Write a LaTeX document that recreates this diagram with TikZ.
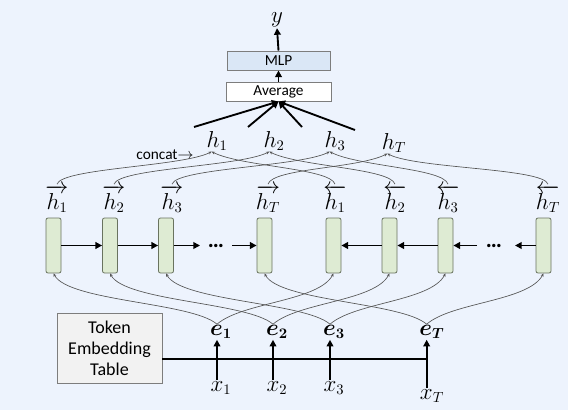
\documentclass[tikz,border=0pt]{standalone}
\usepackage{amsmath}
\usepackage{bm}
\usepackage{fontspec}
\setmainfont{Carlito}
\usetikzlibrary{arrows.meta}
\definecolor{bg}{RGB}{237,243,253}
\definecolor{mlpfill}{RGB}{218,231,246}
\definecolor{cellfill}{RGB}{222,235,211}
\definecolor{cellborder}{RGB}{105,115,95}
\definecolor{tokfill}{RGB}{242,242,242}
\definecolor{curvecol}{RGB}{85,85,85}
\definecolor{boxborder}{RGB}{125,125,125}
\begin{document}
\begin{tikzpicture}[x=0.75pt,y=-0.75pt,
  lab/.style={font=\fontsize{16}{18}\selectfont, inner sep=0.5pt},
  headbox/.style={draw=boxborder, line width=0.7pt, minimum height=14.25pt, inner sep=0pt, font=\fontsize{11.5}{13}\selectfont},
  cell/.style={draw=cellborder, fill=cellfill, line width=0.6pt, rounded corners=1.5pt, minimum width=11.25pt, minimum height=41.25pt, inner sep=0pt},
  tokbox/.style={draw=boxborder, fill=tokfill, line width=0.7pt, minimum width=78.75pt, minimum height=52.5pt, inner sep=0pt, align=center, font=\fontsize{13.5}{15.75}\selectfont},
  thickarr/.style={line width=1.4pt, -{Triangle[length=5pt,width=5pt]}},
  curvarr/.style={draw=curvecol, line width=0.5pt, -{Stealth[length=2.5pt,width=2.2pt]}},
  dotsnode/.style={font=\fontsize{17}{18}\selectfont\bfseries, inner sep=0pt}]
\fill[bg] (0,0) rectangle (568,410);
\useasboundingbox (0,0) rectangle (568,410);

% top
\node[lab] (y) at (277,20) {$y$};
\node[headbox, fill=mlpfill, minimum width=77.25pt] (mlp) at (278.5,60.5) {MLP};
\node[headbox, fill=white, minimum width=78.75pt] (avg) at (278.5,91.5) {Average};
\draw[thickarr] (mlp.north) -- (y.south);
\draw[thickarr] (avg.north) -- (mlp.south);

% concatenated h
\node[lab] (h1) at (217,141) {$h_1$};
\node[lab] (h2) at (274,141) {$h_2$};
\node[lab] (h3) at (335,141) {$h_3$};
\node[lab] (hT) at (394,143) {$h_T$};
\coordinate (ch1) at ([xshift=-4pt]h1.south);
\coordinate (ch2) at ([xshift=-3.5pt]h2.south);
\coordinate (ch3) at ([xshift=-4pt]h3.south);
\coordinate (chT) at ([xshift=-5pt]hT.south);
\node[font=\fontsize{11.5}{13}\selectfont, inner sep=0pt] (concat) at (165,155) {concat$\rightarrow$};

\coordinate (s1) at (194,127);
\coordinate (s2) at (248,127);
\coordinate (s3) at (302,127);
\coordinate (s4) at (355,130);
\draw[thickarr] (s1) -- (avg.south);
\draw[thickarr] (s2) -- (avg.south);
\draw[thickarr] (s3) -- (avg.south);
\draw[thickarr] (s4) -- (avg.south);

% forward / backward labels
\node[lab] (f1) at (57,199) {$\overrightarrow{h_1}$};
\node[lab] (f2) at (114,199) {$\overrightarrow{h_2}$};
\node[lab] (f3) at (172,199) {$\overrightarrow{h_3}$};
\node[lab] (fT) at (268,199) {$\overrightarrow{h_T}$};
\node[lab] (b1) at (335,199) {$\overleftarrow{h_1}$};
\node[lab] (b2) at (395,199) {$\overleftarrow{h_2}$};
\node[lab] (b3) at (448,199) {$\overleftarrow{h_3}$};
\node[lab] (bT) at (548,199) {$\overleftarrow{h_T}$};

% upper curves
\draw[curvarr] (f1.north) .. controls +(5,-16) and +(-30,15) .. (ch1);
\draw[curvarr] (f2.north) .. controls +(5,-16) and +(-30,15) .. (ch2);
\draw[curvarr] (f3.north) .. controls +(5,-16) and +(-30,15) .. (ch3);
\draw[curvarr] (fT.north) .. controls +(5,-16) and +(-30,15) .. (chT);
\draw[curvarr] (b1.north) .. controls +(-5,-16) and +(30,15) .. (ch1);
\draw[curvarr] (b2.north) .. controls +(-5,-16) and +(30,15) .. (ch2);
\draw[curvarr] (b3.north) .. controls +(-5,-16) and +(30,15) .. (ch3);
\draw[curvarr] (bT.north) .. controls +(-5,-16) and +(30,15) .. (chT);

% cells
\node[cell] (fc1) at (53.5,245.5) {};
\node[cell] (fc2) at (110,245.5) {};
\node[cell] (fc3) at (166,245.5) {};
\node[cell] (fcT) at (264.5,245.5) {};
\node[cell] (bc1) at (333.5,245.5) {};
\node[cell] (bc2) at (389.5,245.5) {};
\node[cell] (bc3) at (445.5,245.5) {};
\node[cell] (bcT) at (543.5,245.5) {};

\draw[thickarr] (fc1.east) -- (fc2.west);
\draw[thickarr] (fc2.east) -- (fc3.west);
\coordinate (fd1) at (200,245.5);
\coordinate (fd2) at (232,245.5);
\draw[thickarr] (fc3.east) -- (fd1);
\node[dotsnode] (fdots) at (216,246) {\textellipsis};
\draw[thickarr] (fd2) -- (fcT.west);

\draw[thickarr] (bc2.west) -- (bc1.east);
\draw[thickarr] (bc3.west) -- (bc2.east);
\coordinate (bd1) at (477,245.5);
\coordinate (bd2) at (515,245.5);
\draw[thickarr] (bd1) -- (bc3.east);
\node[dotsnode] (bdots) at (494,246) {\textellipsis};
\draw[thickarr] (bcT.west) -- (bd2);

% embeddings
\node[lab] (e1) at (221,332) {$\bm{e}_{\bm{1}}$};
\node[lab] (e2) at (277,332) {$\bm{e}_{\bm{2}}$};
\node[lab] (e3) at (334,332) {$\bm{e}_{\bm{3}}$};
\node[lab] (eT) at (432,332) {$\bm{e}_{\bm{T}}$};
\coordinate (ce1) at ([xshift=-3pt]e1.north);
\coordinate (ce2) at ([xshift=-3pt]e2.north);
\coordinate (ce3) at ([xshift=-3pt]e3.north);
\coordinate (ceT) at ([xshift=-4pt]eT.north);

% lower curves
\draw[curvarr] (ce1) .. controls +(-25,-22) and +(15,28) .. (fc1.south);
\draw[curvarr] (ce2) .. controls +(-25,-22) and +(15,28) .. (fc2.south);
\draw[curvarr] (ce3) .. controls +(-25,-22) and +(15,28) .. (fc3.south);
\draw[curvarr] (ceT) .. controls +(-25,-22) and +(15,28) .. (fcT.south);
\draw[curvarr] (ce1) .. controls +(25,-22) and +(-15,28) .. (bc1.south);
\draw[curvarr] (ce2) .. controls +(25,-22) and +(-15,28) .. (bc2.south);
\draw[curvarr] (ce3) .. controls +(25,-22) and +(-15,28) .. (bc3.south);
\draw[curvarr] (ceT) .. controls +(25,-22) and +(-15,28) .. (bcT.south);

% inputs
\node[lab] (x1) at (221,388) {$x_1$};
\node[lab] (x2) at (277,388) {$x_2$};
\node[lab] (x3) at (334,388) {$x_3$};
\node[lab] (xT) at (432,396) {$x_T$};
\draw[thickarr] ([xshift=-3pt]x1.north) -- ([xshift=-3pt]e1.south);
\draw[thickarr] ([xshift=-3pt]x2.north) -- ([xshift=-3pt]e2.south);
\draw[thickarr] ([xshift=-3pt]x3.north) -- ([xshift=-3pt]e3.south);
\draw[thickarr] ([xshift=-4pt]xT.north) -- ([xshift=-4pt]eT.south);

% token embedding table
\node[tokbox] (teb) at (109.5,348) {Token\\Embedding\\Table};
\coordinate (lend) at ([xshift=-4pt]eT.south |- 0,359);
\draw[line width=1.1pt] (teb.east |- lend) -- (lend);
\end{tikzpicture}
\end{document}
